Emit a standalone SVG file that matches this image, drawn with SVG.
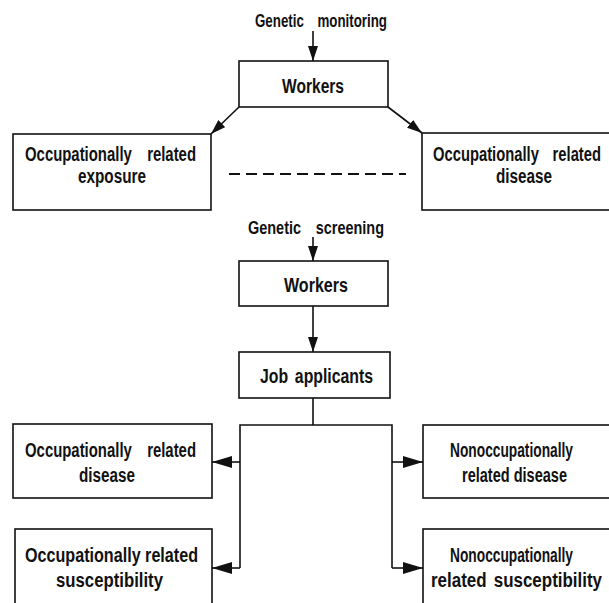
<svg xmlns="http://www.w3.org/2000/svg" width="609" height="603" viewBox="0 0 609 603">
<defs>
<style>
.t{font-family:"Liberation Sans",Arial,sans-serif;font-weight:bold;font-size:20px;fill:#111}
.h{font-size:19px}
.b{fill:#fff;stroke:#111;stroke-width:1.6}
.c{fill:none;stroke:#111;stroke-width:1.6}
</style>
<marker id="ah" markerUnits="userSpaceOnUse" markerWidth="20" markerHeight="12" refX="20" refY="6" orient="auto">
<path d="M0,0 L20,6 L0,12 z" fill="#111"/>
</marker>
<marker id="ahs" markerUnits="userSpaceOnUse" markerWidth="15" markerHeight="10" refX="15" refY="5" orient="auto">
<path d="M0,0 L15,5 L0,10 z" fill="#111"/>
</marker>
</defs>
<rect width="609" height="603" fill="#fff"/>

<text id="label-monitoring" class="t h" x="255" y="27" word-spacing="14" textLength="132" lengthAdjust="spacingAndGlyphs">Genetic monitoring</text>
<text id="label-screening" class="t h" x="248" y="234" word-spacing="14" textLength="136" lengthAdjust="spacingAndGlyphs">Genetic screening</text>

<g id="workers1"><rect class="b" x="239" y="61" width="149" height="46"/><text class="t" x="282" y="93" textLength="62" lengthAdjust="spacingAndGlyphs">Workers</text></g>
<g id="exposure"><rect class="b" x="13" y="134" width="198" height="76"/><text class="t" x="25" y="161" word-spacing="15" textLength="171" lengthAdjust="spacingAndGlyphs">Occupationally related</text><text class="t" x="78" y="183" textLength="68" lengthAdjust="spacingAndGlyphs">exposure</text></g>
<g id="disease1"><rect class="b" x="422" y="133" width="188" height="77"/><text class="t" x="433" y="161" word-spacing="13" textLength="168" lengthAdjust="spacingAndGlyphs">Occupationally related</text><text class="t" x="496" y="183" textLength="56" lengthAdjust="spacingAndGlyphs">disease</text></g>

<g id="workers2"><rect class="b" x="239" y="261" width="149" height="45"/><text class="t" x="284" y="292" textLength="64" lengthAdjust="spacingAndGlyphs">Workers</text></g>
<g id="applicants"><rect class="b" x="239" y="352" width="151" height="46"/><text class="t" x="260" y="383" word-spacing="3" textLength="113" lengthAdjust="spacingAndGlyphs">Job applicants</text></g>

<g id="occ-disease"><rect class="b" x="13" y="424" width="199" height="74"/><text class="t" x="25" y="457" word-spacing="15" textLength="171" lengthAdjust="spacingAndGlyphs">Occupationally related</text><text class="t" x="79" y="482" textLength="56" lengthAdjust="spacingAndGlyphs">disease</text></g>
<g id="nonocc-disease"><rect class="b" x="423" y="425" width="187" height="73"/><text class="t" x="450" y="457" textLength="123" lengthAdjust="spacingAndGlyphs">Nonoccupationally</text><text class="t" x="462" y="482" textLength="105" lengthAdjust="spacingAndGlyphs">related disease</text></g>
<g id="occ-susc"><rect class="b" x="15" y="529" width="197" height="75"/><text class="t" x="25" y="562" textLength="173" lengthAdjust="spacingAndGlyphs">Occupationally related</text><text class="t" x="56" y="587" textLength="107" lengthAdjust="spacingAndGlyphs">susceptibility</text></g>
<g id="nonocc-susc"><rect class="b" x="423" y="529" width="187" height="75"/><text class="t" x="450" y="562" textLength="123" lengthAdjust="spacingAndGlyphs">Nonoccupationally</text><text class="t" x="431" y="587" word-spacing="3" textLength="171" lengthAdjust="spacingAndGlyphs">related susceptibility</text></g>

<g id="connectors">
<line class="c" x1="313" y1="31" x2="313" y2="61" marker-end="url(#ahs)"/>
<line class="c" x1="239" y1="107" x2="211" y2="134" marker-end="url(#ahs)"/>
<line class="c" x1="388" y1="107" x2="422" y2="133" marker-end="url(#ahs)"/>
<line x1="229" y1="174" x2="406" y2="174" stroke="#111" stroke-width="2" stroke-dasharray="11 6"/>
<line class="c" x1="313" y1="237" x2="313" y2="261" marker-end="url(#ahs)"/>
<line class="c" x1="313" y1="306" x2="313" y2="352" marker-end="url(#ahs)"/>
<polyline class="c" points="313,398 313,425"/>
<polyline class="c" points="240,568 240,425 392,425 392,568"/>
<line class="c" x1="240" y1="462" x2="212" y2="462" marker-end="url(#ah)"/>
<line class="c" x1="240" y1="568" x2="212" y2="568" marker-end="url(#ah)"/>
<line class="c" x1="392" y1="462" x2="423" y2="462" marker-end="url(#ah)"/>
<line class="c" x1="392" y1="568" x2="423" y2="568" marker-end="url(#ah)"/>
</g>
</svg>
